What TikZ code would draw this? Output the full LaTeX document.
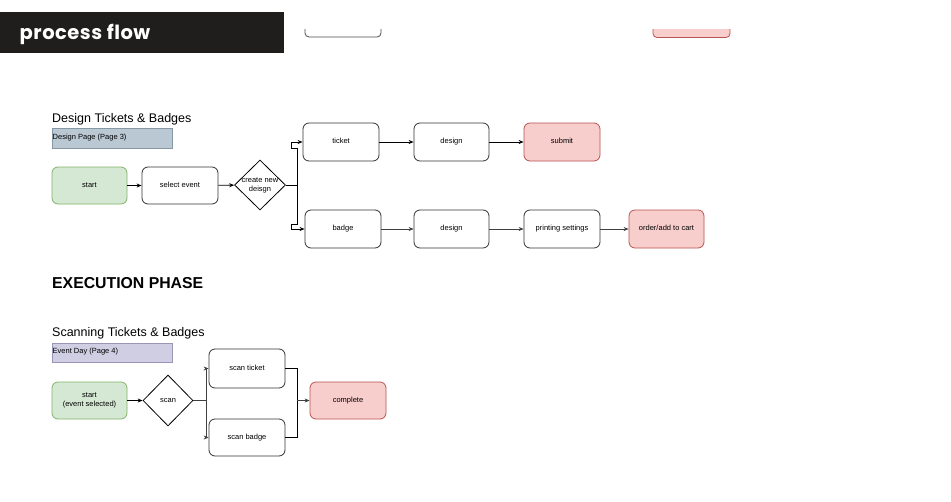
\documentclass[tikz,border=0pt]{standalone}
\usepackage{fontspec}
\setmainfont{Liberation Sans}
\newfontfamily\bannerfont{Poppins}[LetterSpace=2.5]
\usetikzlibrary{shapes.geometric,arrows.meta}
\definecolor{bannerbg}{HTML}{1F1E1C}
\definecolor{greenfill}{HTML}{D5E8D4}
\definecolor{greenline}{HTML}{82B366}
\definecolor{pinkfill}{HTML}{F8CECC}
\definecolor{pinkline}{HTML}{B85450}
\definecolor{bluefill}{HTML}{BAC8D3}
\definecolor{blueline}{HTML}{8798A5}
\definecolor{purpfill}{HTML}{D0CEE2}
\definecolor{purpline}{HTML}{9A94B8}
\tikzset{
  boxtext/.style={font=\fontsize{7.5}{9}\selectfont, align=center},
  procbase/.style={draw=black!80, line width=0.8pt, rounded corners=6pt, fill=white,
    minimum width=76pt, minimum height=38pt, inner sep=0pt, boxtext},
  procbox/.style={procbase, text height=5.4pt, text depth=1.6pt},
  startbox/.style={procbox, draw=greenline, fill=greenfill},
  endbox/.style={procbox, draw=pinkline, fill=pinkfill},
  decision/.style={draw=black, line width=0.8pt, diamond, shape aspect=1, inner sep=0pt, fill=white},
  tagbox/.style={draw, line width=0.8pt, inner sep=0pt, anchor=north west},
  conn/.style={line width=0.9pt, black, -{Stealth[length=5pt,width=4pt]}},
  connthin/.style={line width=0.6pt, black!75, -{Stealth[length=5pt,width=4pt]}},
  plain/.style={line width=0.9pt, black},
  plainthin/.style={line width=0.6pt, black!75},
}
\begin{document}
\begin{tikzpicture}[x=1pt,y=-1pt]
\useasboundingbox (0,0) rectangle (951,501);
\fill[white] (0,0) rectangle (951,501);

% banner
\fill[bannerbg] (0,12) rectangle (284,53);
\node[anchor=base west, text=white, inner sep=0pt, font=\bannerfont\bfseries\fontsize{19.5}{23}\selectfont] (banner) at (19.5,39) {process flow};

% cut-off boxes at top
\begin{scope}
\clip (0,29) rectangle (951,60);
\draw[draw=black!70, line width=0.8pt, rounded corners=4pt] (305,-10) rectangle (381,37);
\draw[draw=pinkline, fill=pinkfill, line width=0.8pt, rounded corners=4pt] (653,-10) rectangle (730,37.5);
\end{scope}

% ===== Design section =====
\node[anchor=west, inner sep=0pt, font=\fontsize{12.5}{15}\selectfont] (t1) at (52,119) {Design Tickets \& Badges};
\node[tagbox, draw=blueline, fill=bluefill, minimum width=120pt, minimum height=20pt] (tag1) at (52,128) {};
\node[anchor=west, inner sep=0pt, font=\fontsize{7.5}{9}\selectfont] (tag1t) at (52.5,137.5) {Design Page (Page 3)};

\node[startbox, minimum width=75pt, minimum height=37pt] (start1) at (89.5,185.5) {start};
\node[procbox, minimum height=37pt] (sel) at (180,185.5) {select event};
\node[decision, minimum width=51pt, minimum height=50pt, label={[boxtext, inner sep=0pt]center:create new\\deisgn}] (dia1) at (260,185) {};

\node[procbox] (ticket) at (341,142) {ticket};
\node[procbox, minimum width=75pt] (des1) at (451.5,142) {design};
\node[endbox] (submit) at (562,142) {submit};

\node[procbox] (badge) at (343,229) {badge};
\node[procbox, minimum width=75pt] (des2) at (451.5,229) {design};
\node[procbox] (print) at (562,229) {printing settings};
\node[endbox, minimum width=75pt] (order) at (666.5,229) {order/add to cart};

\coordinate (j1) at (297,185);
\draw[conn] (start1) -- (sel);
\draw[conn] (sel) -- (dia1);
\draw[plain] (dia1.east) -- (j1);
\draw[conn] (j1) -- (297,148) -- (291.5,148) -- (291.5,142) -- (ticket.west);
\draw[conn] (j1) -- (297,224) -- (291.5,224) -- (291.5,229) -- (badge.west);
\draw[conn] (ticket) -- (des1);
\draw[conn] (des1) -- (submit);
\draw[connthin] (badge) -- (des2);
\draw[connthin] (des2) -- (print);
\draw[connthin] (print) -- (order);

% ===== Execution section =====
\node[anchor=west, inner sep=0pt, font=\bfseries\fontsize{15.8}{18}\selectfont] (exec) at (52,283) {EXECUTION PHASE};
\node[anchor=west, inner sep=0pt, font=\fontsize{12.5}{15}\selectfont] (t2) at (52,333) {Scanning Tickets \& Badges};
\node[tagbox, draw=purpline, fill=purpfill, minimum width=120pt, minimum height=19pt] (tag2) at (52,343) {};
\node[anchor=west, inner sep=0pt, font=\fontsize{7.5}{9}\selectfont] (tag2t) at (52.5,352) {Event Day (Page 4)};

\node[procbase, draw=greenline, fill=greenfill, minimum width=75pt, minimum height=37pt] (start2) at (89.5,400.5) {start\\(event selected)};
\node[decision, minimum width=50pt, minimum height=51pt, label={[boxtext, inner sep=0pt]center:scan}] (dia2) at (168,400.5) {};
\node[procbox, minimum height=39pt] (sticket) at (247,368.5) {scan ticket};
\node[procbox, minimum height=37pt] (sbadge) at (247,437.5) {scan badge};
\node[endbox, minimum height=37pt] (complete) at (348,400.5) {complete};

\coordinate (j2) at (206,400.5);
\coordinate (j3) at (297,400.5);
\draw[conn] (start2) -- (dia2);
\draw[plainthin] (dia2.east) -- (j2);
\draw[connthin] (j2) |- (sticket.west);
\draw[connthin] (j2) |- (sbadge.west);
\draw[plain] (sticket.east) -| (j3);
\draw[plain] (sbadge.east) -| (j3);
\draw[connthin] (j3) -- (complete.west);
\end{tikzpicture}
\end{document}
